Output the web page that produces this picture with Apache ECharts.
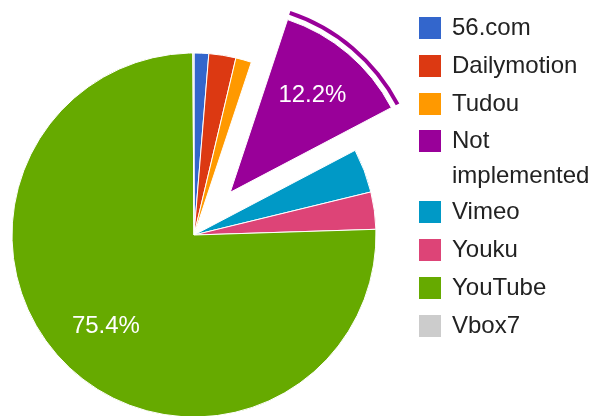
<!DOCTYPE html>
<html>
<head>
<meta charset="utf-8">
<script src="https://cdn.jsdelivr.net/npm/echarts@6/dist/echarts.min.js"></script>
<style>
html,body{margin:0;padding:0;background:#fff;}
#chart{width:599px;height:416px;}
</style>
</head>
<body>
<div id="chart"></div>
<script>
const categories = ['56.com', 'Dailymotion', 'Tudou', 'Not implemented', 'Vimeo', 'Youku', 'YouTube', 'Vbox7'];
const shares = [1.3, 2.4, 1.4, 12.2, 3.9, 3.3, 75.4, 0.1];
const colors = ['#3366cc', '#dc3912', '#ff9900', '#990099', '#0099c6', '#dd4477', '#66aa00', '#cccccc'];
const explodedName = 'Not implemented';
const legendGroupA = ['56.com', 'Dailymotion', 'Tudou'];
const legendGroupB = ['Not implemented'];
const legendGroupC = ['Vimeo', 'Youku', 'YouTube', 'Vbox7'];

const CX = 194, CY = 235, R = 182, OFFSET = 56;
const FONT = 'Arial, "Liberation Sans", sans-serif';

const chart = echarts.init(document.getElementById('chart'), null, {renderer: 'canvas'});

const mainData = categories.map((n, i) => ({
  name: n, value: shares[i], selected: n === explodedName,
  itemStyle: {color: colors[i]}
}));
const ringData = categories.map((n, i) => ({
  name: n, value: shares[i], selected: n === explodedName,
  itemStyle: {color: n === explodedName ? colors[i] : 'rgba(0,0,0,0)', borderWidth: 0}
}));
const labelData = categories.map((n, i) => ({
  name: n, value: shares[i], selected: n === explodedName,
  itemStyle: {color: 'rgba(0,0,0,0)', borderWidth: 0}
}));

const legendBase = {
  orient: 'vertical', left: 417, padding: 0,
  itemWidth: 24, itemHeight: 24, itemGap: 12, icon: 'rect',
  selectedMode: false,
  textStyle: {fontFamily: FONT, fontSize: 24, color: '#222', lineHeight: 24, padding: [0, 0, 0, 5]}
};

chart.setOption({
  animation: false,
  color: colors,
  legend: [
    Object.assign({}, legendBase, {top: 15, data: legendGroupA}),
    Object.assign({}, legendBase, {
      top: 88.5, data: legendGroupB,
      formatter: function (name) { return '\n' + name.replace(' ', '\n'); },
      textStyle: {fontFamily: FONT, fontSize: 24, color: '#222', lineHeight: 35, padding: [0, 0, 0, 5]}
    }),
    Object.assign({}, legendBase, {top: 199, data: legendGroupC})
  ],
  series: [
    {
      type: 'pie', name: 'main', center: [CX, CY], radius: [0, R],
      startAngle: 90, clockwise: true,
      selectedMode: 'single', selectedOffset: OFFSET,
      avoidLabelOverlap: false,
      label: {show: false}, labelLine: {show: false},
      itemStyle: {borderColor: '#fff', borderWidth: 1},
      select: {itemStyle: {borderColor: '#fff', borderWidth: 1}},
      emphasis: {disabled: true, scale: false},
      data: mainData
    },
    {
      type: 'pie', name: 'ring', center: [CX, CY], radius: [R + 5, R + 9],
      startAngle: 90, clockwise: true, silent: true,
      selectedMode: 'single', selectedOffset: OFFSET,
      label: {show: false}, labelLine: {show: false},
      itemStyle: {borderWidth: 0},
      select: {itemStyle: {borderWidth: 0}},
      emphasis: {disabled: true, scale: false},
      data: ringData
    },
    {
      type: 'pie', name: 'labels', center: [CX, CY], radius: [66, R],
      startAngle: 90, clockwise: true, silent: true,
      selectedMode: 'single', selectedOffset: OFFSET,
      avoidLabelOverlap: false,
      labelLine: {show: false},
      label: {
        show: true, position: 'inside', color: '#fff', fontFamily: FONT, fontSize: 24,
        formatter: function (p) { return p.percent >= 10 ? p.percent.toFixed(1) + '%' : ''; }
      },
      itemStyle: {borderWidth: 0},
      select: {itemStyle: {borderWidth: 0}, label: {color: '#fff'}},
      emphasis: {disabled: true, scale: false},
      data: labelData
    }
  ]
});
</script>
</body>
</html>
